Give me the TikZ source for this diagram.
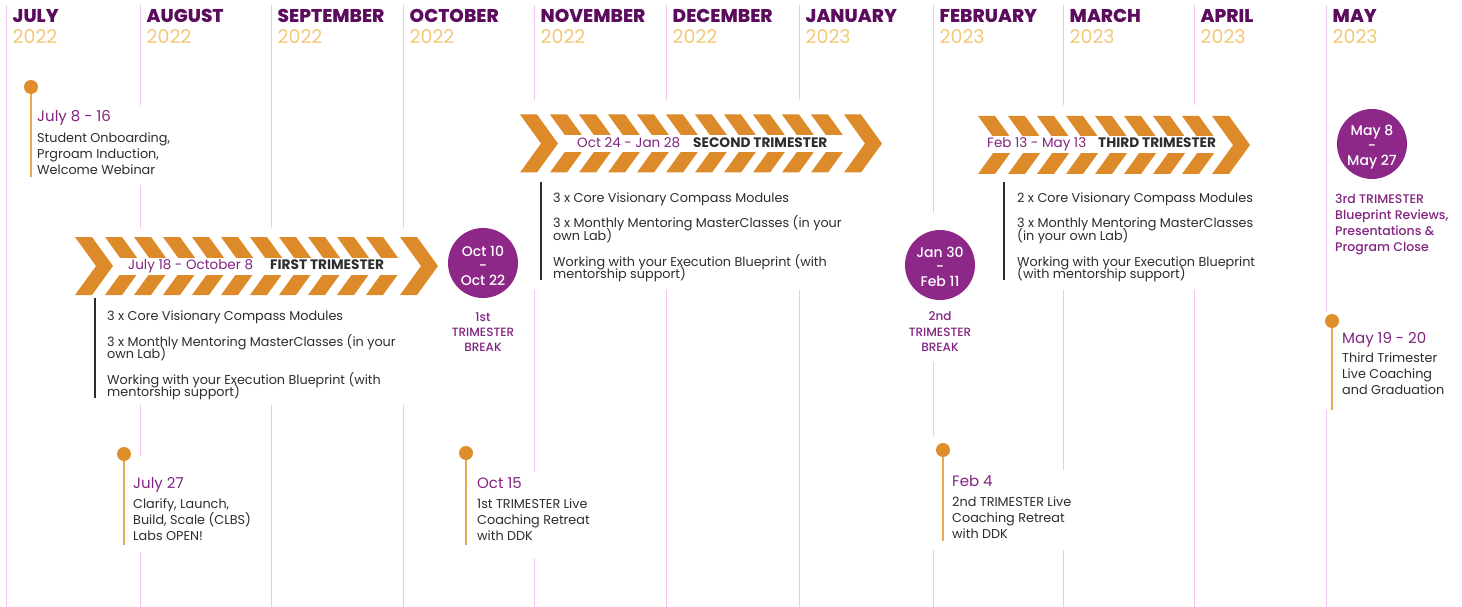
\documentclass[tikz,border=0pt]{standalone}
\usepackage{fontspec}
\setmainfont{Poppins}
\newfontfamily\popmed{Poppins Medium}
\newfontfamily\popxb{Poppins ExtraBold}
\definecolor{monc}{RGB}{92,12,92}
\definecolor{yrc}{RGB}{245,200,120}
\definecolor{gridc}{RGB}{242,196,242}
\definecolor{chevc}{RGB}{221,139,42}
\definecolor{dotc}{RGB}{224,142,44}
\definecolor{evlc}{RGB}{233,168,86}
\definecolor{purp}{RGB}{130,36,128}
\definecolor{circc}{RGB}{142,40,136}
\definecolor{txtc}{RGB}{45,45,45}
\newcommand\chevron[2]{\fill[chevc] (#1,#2-29) -- ++(17,0) -- ++(21,29) -- ++(-21,29) -- ++(-17,0) -- ++(21,-29) -- cycle;}
% #1 first x, #2 centre y, #3 first middle x, #4 middle count-1, #5 last x, #6 band start x
\newcommand\chevbar[6]{%
  \chevron{#1}{#2}%
  \foreach \k in {0,...,#4} {\chevron{#3+29*\k}{#2}}%
  \fill[white] (#6,#2-8.5) rectangle (#5+21,#2+8.5);%
  \chevron{#5}{#2}}
\tikzset{
 gridl/.style={draw=gridc, line width=1pt},
 mon/.style={anchor=base west, inner sep=0, text=monc, font=\fontsize{18.5}{19}\popxb},
 yr/.style={anchor=base west, inner sep=0, text=yrc, font=\fontsize{19}{19}\selectfont},
 evt/.style={anchor=base west, inner sep=0, text=purp, font=\fontsize{15}{15}\selectfont},
 evx/.style={anchor=base west, inner sep=0, text=txtc, font=\fontsize{12.8}{12.8}\selectfont},
 bandp/.style={anchor=base west, inner sep=0, text=purp, font=\fontsize{13.5}{13.5}\selectfont},
 bandb/.style={anchor=base west, inner sep=0, text=txtc, font=\fontsize{13.7}{13.7}\selectfont\bfseries},
 ctext/.style={anchor=base, inner sep=0, text=white, font=\fontsize{14}{14}\popmed},
 brk/.style={anchor=base, inner sep=0, text=purp, font=\fontsize{12}{12}\popmed},
 brkl/.style={anchor=base west, inner sep=0, text=purp, font=\fontsize{12.5}{12.5}\popmed},
 dot/.style={circle, fill=dotc, minimum size=14pt, inner sep=0},
 evline/.style={draw=evlc, line width=2pt},
 bline/.style={draw=txtc, line width=1.3pt},
 bigc/.style={circle, fill=circc, minimum size=70pt, inner sep=0},
 mask/.style={fill=white},
}
\begin{document}
\begin{tikzpicture}[x=1pt,y=-1pt]
\useasboundingbox[fill=white] (0,0) rectangle (1462,607);
% month grid lines
\foreach \x in {6,140,271,403,534,666,799,933,1063,1194,1326} {\draw[gridl] (\x,5) -- (\x,607);}
% white masks behind blocks
\fill[mask] (25,105) rectangle (180,185);
\fill[mask] (68,228) rectangle (445,405);
\fill[mask] (115,456) rectangle (250,552);
\fill[mask] (458,472) rectangle (600,558);
\fill[mask] (512,100) rectangle (890,290);
\fill[mask] (895,213) rectangle (990,362);
\fill[mask] (925,436) rectangle (948,550);
\fill[mask] (925,470) rectangle (1080,550);
\fill[mask] (970,105) rectangle (1260,290);
\fill[mask] (1320,312) rectangle (1460,410);
% month labels
\foreach \x/\m/\y [count=\i] in {6/JULY/2022,140/AUGUST/2022,271/SEPTEMBER/2022,403/OCTOBER/2022,534/NOVEMBER/2022,666/DECEMBER/2022,799/JANUARY/2023,933/FEBRUARY/2023,1063/MARCH/2023,1194/APRIL/2023,1326/MAY/2023}{
  \node[mon] (mon\i) at (\x+6.5,22.5) {\m};
  \node[yr] (yr\i) at (\x+6.5,44) {\y};
}
% chevron bars
\chevbar{75}{266}{105}{9}{400}{113}
\chevbar{520}{143.5}{550}{9}{844}{558}
\chevbar{978}{145}{1008}{6}{1212}{983}
\node[bandp] (p1) at (128,269.8) {July 18 - October 8};
\node[bandb] (t1) at (270,269.8) {FIRST TRIMESTER};
\node[bandp] (p2) at (577,147.8) {Oct 24 - Jan 28};
\node[bandb] (t2) at (693,147.8) {SECOND TRIMESTER};
\node[bandp] (p3) at (987,147.8) {Feb 13 - May 13};
\node[bandb] (t3) at (1098,147.8) {THIRD TRIMESTER};
% bullet blocks
\coordinate (b1t) at (95,298); \coordinate (b1b) at (95,398);
\draw[bline] (b1t) -- (b1b);
\node[evx] (b1a) at (107,320) {3 x Core Visionary Compass Modules};
\node[evx] (b1b1) at (107,346) {3 x Monthly Mentoring MasterClasses (in your};
\node[evx] (b1b2) at (107,358) {own Lab)};
\node[evx] (b1c1) at (107,384.5) {Working with your Execution Blueprint (with};
\node[evx] (b1c2) at (107,396.5) {mentorship support)};
\coordinate (b2t) at (541,182); \coordinate (b2b) at (541,280);
\draw[bline] (b2t) -- (b2b);
\node[evx] (b2a) at (553,202) {3 x Core Visionary Compass Modules};
\node[evx] (b2b1) at (553,227.5) {3 x Monthly Mentoring MasterClasses (in your};
\node[evx] (b2b2) at (553,240) {own Lab)};
\node[evx] (b2c1) at (553,266.5) {Working with your Execution Blueprint (with};
\node[evx] (b2c2) at (553,278.5) {mentorship support)};
\coordinate (b3t) at (1004,182); \coordinate (b3b) at (1004,280);
\draw[bline] (b3t) -- (b3b);
\node[evx] (b3a) at (1017,202) {2 x Core Visionary Compass Modules};
\node[evx] (b3b1) at (1017,227.5) {3 x Monthly Mentoring MasterClasses};
\node[evx] (b3b2) at (1017,240) {(in your own Lab)};
\node[evx] (b3c1) at (1017,266.5) {Working with your Execution Blueprint};
\node[evx] (b3c2) at (1017,278.5) {(with mentorship support)};
% circles
\node[bigc] (c1) at (483,263) {};
\node[ctext] (c1a) at (483,256) {Oct 10};
\node[ctext] (c1b) at (483,270) {-};
\node[ctext] (c1c) at (483,285) {Oct 22};
\node[brk] (c1l1) at (483,321) {1st};
\node[brk] (c1l2) at (483,336) {TRIMESTER};
\node[brk] (c1l3) at (483,351) {BREAK};
\node[bigc] (c2) at (940,265) {};
\node[ctext] (c2a) at (940,257) {Jan 30};
\node[ctext] (c2b) at (940,271) {-};
\node[ctext] (c2c) at (940,286) {Feb 11};
\node[brk] (c2l1) at (940,320) {2nd};
\node[brk] (c2l2) at (940,336) {TRIMESTER};
\node[brk] (c2l3) at (940,351) {BREAK};
\node[bigc] (c3) at (1372,144) {};
\node[ctext] (c3a) at (1372,136) {May 8};
\node[ctext] (c3b) at (1372,150) {-};
\node[ctext] (c3c) at (1372,165) {May 27};
\node[brkl] (c3l1) at (1335,204) {3rd TRIMESTER};
\node[brkl] (c3l2) at (1335,219.5) {Blueprint Reviews,};
\node[brkl] (c3l3) at (1335,235.5) {Presentations \&};
\node[brkl] (c3l4) at (1335,251) {Program Close};
% events
\node[dot] (d1) at (31,87) {}; \coordinate (d1e) at (31,177);
\draw[evline] (d1.south) -- (d1e);
\node[evt] (e1t) at (37,122) {July 8 - 16};
\node[evx] (e1a) at (37,142.5) {Student Onboarding,};
\node[evx] (e1b) at (37,158.5) {Prgroam Induction,};
\node[evx] (e1c) at (37,174.5) {Welcome Webinar};
\node[dot] (d2) at (124,454) {}; \coordinate (d2e) at (124,545);
\draw[evline] (d2.south) -- (d2e);
\node[evt] (e2t) at (133,488) {July 27};
\node[evx] (e2a) at (133,508) {Clarify, Launch,};
\node[evx] (e2b) at (133,524) {Build, Scale (CLBS)};
\node[evx] (e2c) at (133,540) {Labs OPEN!};
\node[dot] (d3) at (466,453) {}; \coordinate (d3e) at (466,545);
\draw[evline] (d3.south) -- (d3e);
\node[evt] (e3t) at (477,488) {Oct 15};
\node[evx] (e3a) at (477,508) {1st TRIMESTER Live};
\node[evx] (e3b) at (477,524) {Coaching Retreat};
\node[evx] (e3c) at (477,540) {with DDK};
\node[dot] (d4) at (943,450) {}; \coordinate (d4e) at (943,541);
\draw[evline] (d4.south) -- (d4e);
\node[evt] (e4t) at (952,486) {Feb 4};
\node[evx] (e4a) at (952,506.5) {2nd TRIMESTER Live};
\node[evx] (e4b) at (952,522.5) {Coaching Retreat};
\node[evx] (e4c) at (952,538.5) {with DDK};
\node[dot] (d5) at (1332,321) {}; \coordinate (d5e) at (1332,410);
\draw[evline] (d5.south) -- (d5e);
\node[evt] (e5t) at (1342,343) {May 19 - 20};
\node[evx] (e5a) at (1342,362.5) {Third Trimester};
\node[evx] (e5b) at (1342,378.5) {Live Coaching};
\node[evx] (e5c) at (1342,394.5) {and Graduation};
\end{tikzpicture}
\end{document}
